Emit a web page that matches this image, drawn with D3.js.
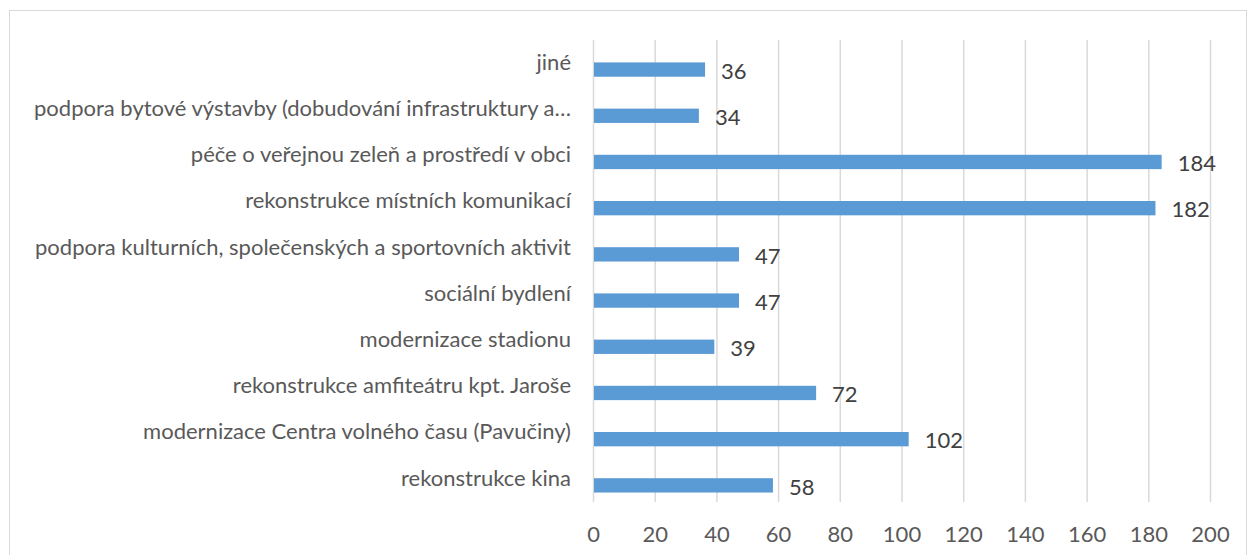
<!DOCTYPE html>
<html>
<head>
    <meta charset="utf-8">
    <title>Bar chart</title>
    <script src="https://d3js.org/d3.v7.min.js"></script>
    <style>
        body { margin: 0; background: #fff; }
        text { font-family: Lato, "Open Sans", sans-serif; }
    </style>
</head>
<body>
    <svg width="1247" height="555"></svg>

    <script>
    // categories listed top to bottom, as in the picture
    const categories = [
        "jiné",
        "podpora bytové výstavby (dobudování infrastruktury a…",
        "péče o veřejnou zeleň a prostředí v obci",
        "rekonstrukce místních komunikací",
        "podpora kulturních, společenských a sportovních aktivit",
        "sociální bydlení",
        "modernizace stadionu",
        "rekonstrukce amfiteátru kpt. Jaroše",
        "modernizace Centra volného času (Pavučiny)",
        "rekonstrukce kina"
    ];
    const values = [36, 34, 184, 182, 47, 47, 39, 72, 102, 58];
    const ticks = [0, 20, 40, 60, 80, 100, 120, 140, 160, 180, 200];

    const data = categories.map((c, i) => ({ name: c, value: values[i] }));

    const svg = d3.select("svg");

    // chart border
    svg.append("rect")
        .attr("x", 9.5).attr("y", 10.5)
        .attr("width", 1237).attr("height", 560)
        .attr("fill", "none")
        .attr("stroke", "#d9d9d9");

    const x = d3.scaleLinear().domain([0, 200]).range([593, 1210]);
    const y = d3.scaleBand().domain(categories).range([40, 502]);

    // gridlines
    svg.append("g")
        .selectAll("line")
        .data(ticks)
        .enter().append("line")
        .attr("x1", d => x(d) + 0.5).attr("x2", d => x(d) + 0.5)
        .attr("y1", 40).attr("y2", 502)
        .attr("stroke", "#d9d9d9")
        .attr("stroke-width", 1.5);

    // x axis tick labels
    const xAxis = d3.axisBottom(x).tickValues(ticks).tickSize(0).tickPadding(0);
    const gx = svg.append("g")
        .attr("transform", "translate(0,524)")
        .call(xAxis);
    gx.select(".domain").remove();
    gx.selectAll("text")
        .attr("fill", "#595959")
        .style("font-size", "22px")
        .attr("dy", "0.8em");

    // category labels
    const yAxis = d3.axisLeft(y).tickSize(0).tickPadding(0);
    const gy = svg.append("g")
        .attr("transform", "translate(571,0)")
        .call(yAxis);
    gy.select(".domain").remove();
    gy.selectAll("text")
        .attr("fill", "#595959")
        .style("font-size", "22px")
        .attr("dy", "0.3em");

    // bars
    svg.append("g")
        .selectAll("rect")
        .data(data)
        .enter().append("rect")
        .attr("x", x(0) + 1)
        .attr("y", d => y(d.name) + y.bandwidth() * 0.485)
        .attr("width", d => x(d.value) - x(0))
        .attr("height", y.bandwidth() * 0.31)
        .attr("fill", "#5b9bd5");

    // value labels
    svg.append("g")
        .selectAll("text")
        .data(data)
        .enter().append("text")
        .attr("x", d => x(d.value) + 17)
        .attr("y", d => y(d.name) + y.bandwidth() * 0.5 + 8)
        .attr("dy", "0.35em")
        .attr("fill", "#404040")
        .style("font-size", "22px")
        .text(d => d.value);
    </script>
</body>
</html>
